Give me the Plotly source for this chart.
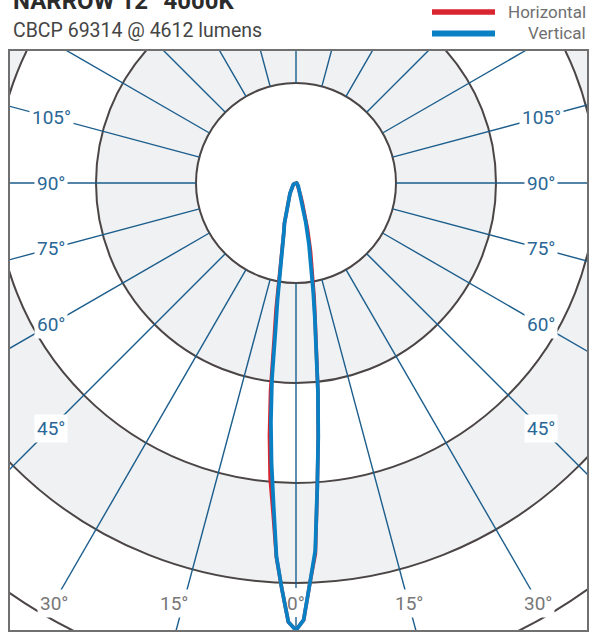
import numpy as np
import plotly.graph_objects as go

# ---------------- data ----------------
title = "NARROW 12° 4000K"
subtitle = "CBCP 69314 @ 4612 lumens"
series_names = ["Horizontal", "Vertical"]

# vertical (gamma) angles, degrees from nadir
gamma = [0, 1, 2, 3, 4, 5, 6, 7, 8, 9, 10, 11, 12, 14, 16, 18, 20, 25, 30, 35, 40, 45, 50, 60, 70, 80, 90]

# candela values, left half-plane and right half-plane
horiz_left = [69314, 68050, 62930, 58100, 51150, 46000, 39400, 32400, 24300, 19700, 15500, 12400, 10400,
              7750, 6510, 5270, 4030, 2480, 1860, 1400, 930, 775, 620, 460, 310, 200, 100]
horiz_right = [69314, 67740, 62000, 57500, 47280, 39530, 32550, 26350, 21300, 17980, 14880, 13020, 10850,
               7440, 4960, 3100, 2170, 1240, 780, 620, 460, 400, 310, 230, 150, 100, 50]
vert_left = [69314, 68050, 62930, 57970, 49910, 43560, 37200, 30540, 22630, 18290, 14730, 12090, 10230,
             7750, 6510, 5270, 4030, 2480, 1860, 1400, 930, 775, 620, 460, 310, 200, 100]
vert_right = [69314, 67740, 62000, 57040, 47280, 39530, 32550, 26350, 20930, 17050, 13640, 11780, 9610,
              6200, 4030, 2170, 1550, 1090, 780, 620, 460, 400, 310, 230, 150, 100, 50]

ring_values = [15500, 31000, 46500, 62000, 77500]     # grid circles (cd)
spoke_angles = list(range(0, 360, 15))               # radial grid lines
side_label_angles = [45, 60, 75, 90, 105]
bottom_label_angles = [0, 15, 30]

# ---------------- layout constants ----------------
W, H = 608, 632
ML, MR, MT, MB = 10, 21, 51, 2
PW, PH = W - ML - MR, H - MT - MB
CD_PER_PX = ring_values[0] / 100.0
CX, CY = 296, 183          # pole position in pixels
x_range = [-(CX - ML) * CD_PER_PX, (ML + PW - CX) * CD_PER_PX]
y_range = [-(MT + PH - CY) * CD_PER_PX, (CY - MT) * CD_PER_PX]

RED = "#d9252f"
BLUE = "#0a80c4"
SPOKE = "#1b5d8c"
RING = "#4b4545"
BAND = "#eff1f3"
LABEL_FONT = "Roboto, sans-serif"
LABEL_SIZE = 19
side_px = 245       # side labels sit on this horizontal offset from the pole
bottom_px = 420     # bottom labels sit on this vertical offset below the pole


def px_x(x):
    return (x - ML) / PW


def px_y(y):
    return (MT + PH - y) / PH


def curve_xy(left, right):
    g = np.radians(np.array(gamma, dtype=float))
    L = np.array(left, dtype=float)
    R = np.array(right, dtype=float)
    xl, yl = -L * np.sin(g), -L * np.cos(g)
    xr, yr = R * np.sin(g), -R * np.cos(g)
    x = np.concatenate([xl[::-1], xr[1:], xl[-1:]])
    y = np.concatenate([yl[::-1], yr[1:], yl[-1:]])
    return x, y


fig = go.Figure()

# radial grid lines (the nadir spoke is interrupted where its label sits)
sx, sy = [], []
r0, r1 = ring_values[0], ring_values[-1]
gap = ((bottom_px - 15) * CD_PER_PX, (bottom_px + 14) * CD_PER_PX)
for a in spoke_angles:
    t = np.radians(a)
    segs = [(r0, gap[0]), (gap[1], r1)] if a == 0 else [(r0, r1)]
    for ra, rb in segs:
        sx += [ra * np.sin(t), rb * np.sin(t), None]
        sy += [-ra * np.cos(t), -rb * np.cos(t), None]
fig.add_trace(go.Scatter(x=sx, y=sy, mode="lines", line=dict(color=SPOKE, width=1.4),
                         hoverinfo="skip", showlegend=False))

# curves
hx, hy = curve_xy(horiz_left, horiz_right)
vx, vy = curve_xy(vert_left, vert_right)
fig.add_trace(go.Scatter(x=hx, y=hy, mode="lines", name=series_names[0],
                         line=dict(color=RED, width=3.6), showlegend=False))
fig.add_trace(go.Scatter(x=vx, y=vy, mode="lines", name=series_names[1],
                         line=dict(color=BLUE, width=3.8), showlegend=False))

shapes = []
# alternating bands (largest first)
fills = {ring_values[3]: BAND, ring_values[2]: "white", ring_values[1]: BAND, ring_values[0]: "white"}
for r in [ring_values[3], ring_values[2], ring_values[1], ring_values[0]]:
    shapes.append(dict(type="circle", xref="x", yref="y", x0=-r, x1=r, y0=-r, y1=r,
                       fillcolor=fills[r], line=dict(width=0), layer="below"))
for r in ring_values:
    shapes.append(dict(type="circle", xref="x", yref="y", x0=-r, x1=r, y0=-r, y1=r,
                       line=dict(color=RING, width=2), layer="below"))

# legend samples
shapes.append(dict(type="line", xref="paper", yref="paper", x0=px_x(432), x1=px_x(495),
                   y0=px_y(12), y1=px_y(12), line=dict(color=RED, width=5.5)))
shapes.append(dict(type="line", xref="paper", yref="paper", x0=px_x(432), x1=px_x(495),
                   y0=px_y(33.5), y1=px_y(33.5), line=dict(color=BLUE, width=6)))

annotations = []
for a in side_label_angles:
    t = np.radians(a)
    r = side_px * CD_PER_PX / np.sin(t)
    for s in (-1, 1):
        annotations.append(dict(x=s * r * np.sin(t), y=-r * np.cos(t), xref="x", yref="y",
                                text=f"{a}°", showarrow=False, bgcolor="white", borderpad=2,
                                font=dict(family=LABEL_FONT, size=LABEL_SIZE, color="#2a6796")))
for a in bottom_label_angles:
    t = np.radians(a)
    r = bottom_px * CD_PER_PX / np.cos(t)
    for s in ((1,) if a == 0 else (-1, 1)):
        annotations.append(dict(x=s * r * np.sin(t), y=-r * np.cos(t), xref="x", yref="y",
                                text=f"{a}°", showarrow=False,
                                bgcolor="rgba(0,0,0,0)" if a == 0 else "white", borderpad=2,
                                xshift=-9 if (a == 15 and s < 0) else 0,
                                font=dict(family=LABEL_FONT, size=LABEL_SIZE, color="#777777")))

annotations.append(dict(x=px_x(11), y=px_y(1.5), xref="paper", yref="paper", xanchor="left",
                        yanchor="middle", text=f"<b>{title}</b>", showarrow=False,
                        font=dict(family="Roboto", size=24, color="#2b2b2b")))
annotations.append(dict(x=px_x(11), y=px_y(30), xref="paper", yref="paper", xanchor="left",
                        yanchor="middle", text=subtitle, showarrow=False,
                        font=dict(family="Roboto", size=19.5, color="#454545")))
annotations.append(dict(x=px_x(588), y=px_y(11.5), xref="paper", yref="paper", xanchor="right",
                        yanchor="middle", text=series_names[0], showarrow=False,
                        font=dict(family="Roboto", size=17, color="#707070")))
annotations.append(dict(x=px_x(588), y=px_y(33), xref="paper", yref="paper", xanchor="right",
                        yanchor="middle", text=series_names[1], showarrow=False,
                        font=dict(family="Roboto", size=17, color="#707070")))

axis_common = dict(showgrid=False, zeroline=False, showticklabels=False, ticks="",
                   showline=True, mirror=True, linecolor="#707070", linewidth=2, fixedrange=True)
fig.update_layout(
    width=W, height=H, margin=dict(l=ML, r=MR, t=MT, b=MB, pad=0),
    paper_bgcolor="white", plot_bgcolor="white",
    xaxis=dict(range=x_range, **axis_common),
    yaxis=dict(range=y_range, **axis_common),
    shapes=shapes, annotations=annotations, showlegend=False,
)

fig.write_html("out.html", config={"displayModeBar": False, "staticPlot": True},
               post_script="document.body.style.margin='0';document.body.style.overflow='hidden';")
